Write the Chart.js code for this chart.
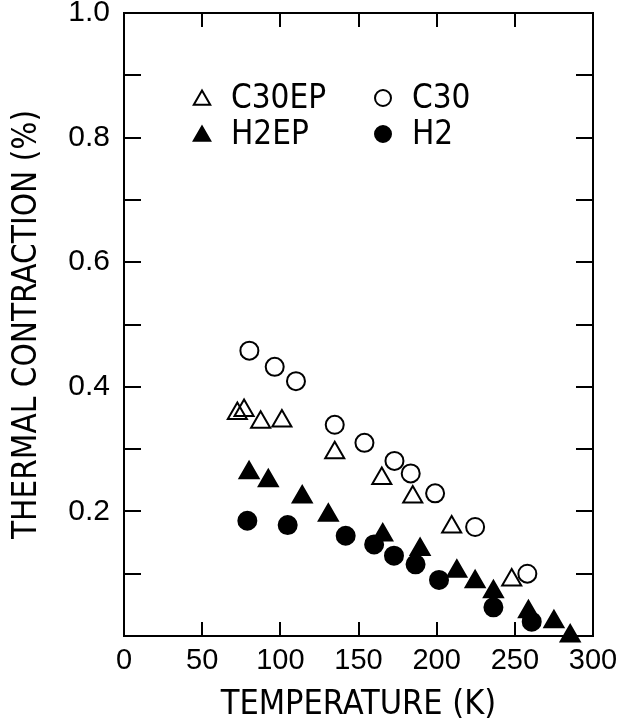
<!DOCTYPE html>
<html>
<head>
<meta charset="utf-8">
<script src="https://cdn.jsdelivr.net/npm/chart.js@4/dist/chart.umd.min.js"></script>
<style>
  html, body { margin: 0; padding: 0; background: #fff; }
  canvas { display: block; }
</style>
</head>
<body>
<canvas id="chart" width="622" height="724"></canvas>
<script>
// data (temperature in K, contraction in %)
const c30epTemp = [72.5, 76.8, 87.4, 101, 134.8, 164.9, 184.7, 209.6, 248];
const c30epVal  = [0.357, 0.362, 0.343, 0.345, 0.294, 0.253, 0.223, 0.175, 0.090];

const c30Temp = [80.2, 96.4, 110, 134.8, 153.8, 173, 183.4, 199, 224.6, 258];
const c30Val  = [0.458, 0.432, 0.409, 0.339, 0.310, 0.281, 0.261, 0.229, 0.175, 0.100];

const h2epTemp = [80, 92.3, 114, 130.7, 165.5, 189.4, 212.9, 224.6, 236.3, 258.7, 275, 285.4];
const h2epVal  = [0.262, 0.249, 0.223, 0.194, 0.162, 0.139, 0.104, 0.087, 0.071, 0.039, 0.023, 0.0];

const h2Temp = [78.9, 104.7, 141.8, 160, 172.7, 186.5, 201.5, 236.3, 260.8];
const h2Val  = [0.185, 0.178, 0.161, 0.147, 0.129, 0.115, 0.090, 0.046, 0.023];

// tick labels
const xTickLabels = [0, 50, 100, 150, 200, 250, 300];
const yTickLabels = ['0.2', '0.4', '0.6', '0.8', '1.0'];

const NARROW = "'Liberation Sans Narrow', 'DejaVu Sans Condensed', 'Liberation Sans', sans-serif";

function toPoints(xs, ys) {
    return xs.map((x, i) => ({ x: x, y: ys[i] }));
}

// fixed scale box, no extra padding for overhanging labels
function fixBox(size) {
    return (scale) => {
        if (scale.isHorizontal()) scale.height = size;
        else scale.width = size;
        scale.paddingTop = 0;
        scale.paddingBottom = 0;
        scale.paddingLeft = 0;
        scale.paddingRight = 0;
    };
}

// legend drawn inside the plot, 2 x 2 grid
const insideLegend = {
    id: 'insideLegend',
    afterDraw(chart) {
        const ctx = chart.ctx;
        const area = chart.chartArea;
        const colX = [78, 259];
        const rowY = [85, 121];
        ctx.save();
        chart.data.datasets.forEach((ds, i) => {
            const x = area.left + colX[i % 2];
            const y = area.top + rowY[Math.floor(i / 2)];
            ctx.fillStyle = ds.backgroundColor;
            ctx.strokeStyle = ds.borderColor;
            ctx.lineWidth = 2;
            const r = ds.pointStyle === 'triangle' ? 9.5 : 8;
            Chart.helpers.drawPoint(ctx, { pointStyle: ds.pointStyle, radius: r, borderWidth: 2, rotation: 0 }, x, y + (ds.pointStyle === 'triangle' ? 2 : 0));
            ctx.fillStyle = '#000';
            ctx.font = "33px " + NARROW;
            ctx.textBaseline = 'middle';
            ctx.textAlign = 'left';
            ctx.fillText(ds.label, x + 29, y + 1);
        });
        ctx.restore();
    }
};

function markerSet(label, data, style, filled) {
    return {
        label: label,
        data: data,
        showLine: false,
        pointStyle: style,
        pointRadius: style === 'triangle' ? 11 : 9,
        pointBorderWidth: 2,
        borderColor: '#000',
        backgroundColor: filled ? '#000' : 'rgba(0,0,0,0)',
        pointBackgroundColor: filled ? '#000' : 'rgba(0,0,0,0)',
        pointBorderColor: '#000',
        clip: false
    };
}

const ctx = document.getElementById('chart').getContext('2d');

new Chart(ctx, {
    type: 'scatter',
    data: {
        datasets: [
            markerSet('C30EP', toPoints(c30epTemp, c30epVal), 'triangle', false),
            markerSet('C30', toPoints(c30Temp, c30Val), 'circle', false),
            markerSet('H2EP', toPoints(h2epTemp, h2epVal), 'triangle', true),
            markerSet('H2', toPoints(h2Temp, h2Val), 'circle', true)
        ]
    },
    options: {
        responsive: false,
        animation: false,
        layout: { padding: { top: 13, right: 29, left: 0, bottom: 0 } },
        plugins: {
            legend: { display: false },
            tooltip: { enabled: false }
        },
        scales: {
            x: {
                type: 'linear',
                position: 'bottom',
                min: 0,
                max: 300,
                border: { color: '#000', width: 2 },
                grid: { drawOnChartArea: false, drawTicks: true, tickLength: -14, color: '#000', lineWidth: 2 },
                ticks: {
                    stepSize: 50,
                    padding: 24,
                    color: '#000',
                    maxRotation: 0,
                    font: { family: 'Liberation Sans', size: 29, lineHeight: 1 },
                    callback: (v) => xTickLabels.includes(v) ? String(v) : ''
                },
                title: {
                    display: true,
                    text: 'TEMPERATURE (K)',
                    color: '#000',
                    font: { family: NARROW, size: 34, lineHeight: 1 },
                    padding: { top: 0, bottom: 2 }
                },
                afterFit: fixBox(88)
            },
            x2: {
                type: 'linear',
                position: 'top',
                min: 0,
                max: 300,
                border: { color: '#000', width: 2 },
                grid: { drawOnChartArea: false, drawTicks: true, tickLength: -14, color: '#000', lineWidth: 2 },
                ticks: { stepSize: 50, display: false },
                afterFit: fixBox(0)
            },
            y: {
                type: 'linear',
                position: 'left',
                min: 0,
                max: 1,
                border: { color: '#000', width: 2 },
                grid: { drawOnChartArea: false, drawTicks: true, tickLength: -17, color: '#000', lineWidth: 2 },
                ticks: {
                    stepSize: 0.1,
                    padding: 31,
                    color: '#000',
                    font: { family: 'Liberation Sans', size: 30, lineHeight: 1 },
                    callback: (v) => yTickLabels.includes(v.toFixed(1)) ? v.toFixed(1) : ''
                },
                title: {
                    display: true,
                    text: 'THERMAL CONTRACTION (%)',
                    color: '#000',
                    font: { family: NARROW, size: 33, lineHeight: 1 },
                    padding: { top: 11, bottom: 0 }
                },
                afterFit: fixBox(124)
            },
            y2: {
                type: 'linear',
                position: 'right',
                min: 0,
                max: 1,
                border: { color: '#000', width: 2 },
                grid: { drawOnChartArea: false, drawTicks: true, tickLength: -17, color: '#000', lineWidth: 2 },
                ticks: { stepSize: 0.1, display: false },
                afterFit: fixBox(0)
            }
        }
    },
    plugins: [insideLegend]
});
</script>
</body>
</html>
